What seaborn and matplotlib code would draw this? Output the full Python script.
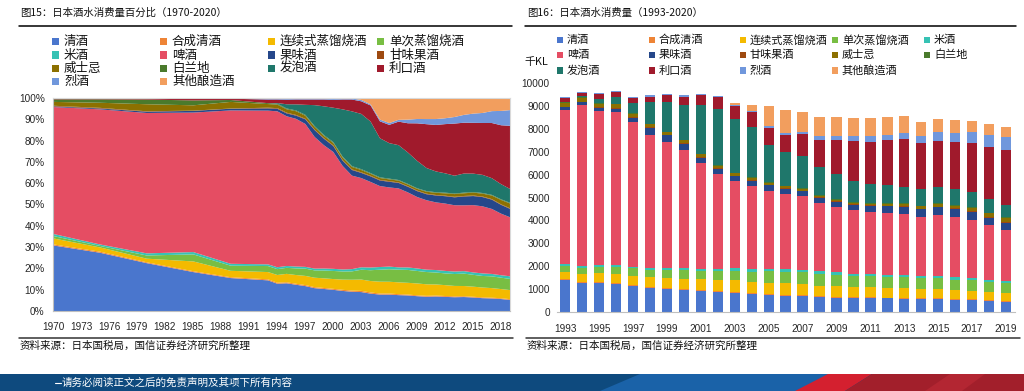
import numpy as np
import pandas as pd
import matplotlib
matplotlib.use("Agg")
import matplotlib.pyplot as plt
from matplotlib.patches import Rectangle, Polygon
from matplotlib.lines import Line2D
import seaborn as sns

# ---------------- data ----------------
categories = ["清酒", "合成清酒", "连续式蒸馏烧酒", "单次蒸馏烧酒", "米酒", "啤酒", "果味酒",
              "甘味果酒", "威士忌", "白兰地", "发泡酒", "利口酒", "烈酒", "其他酿造酒"]
colors = ["#4A76CD", "#EE8436", "#F4BA00", "#78BE43", "#36C2B4", "#E54D63", "#25478A",
          "#9E4A10", "#8C7000", "#4A7A2C", "#1F776B", "#A01A2C", "#7097DC", "#F29E5E"]

# consumption, thousand KL (figure 16)
bar_years = list(range(1993, 2020))
sake      = [1372, 1256, 1270, 1212, 1124, 1037, 1007, 964, 920, 876, 832, 759, 715, 701, 672, 642, 613, 590, 600, 585, 575, 565, 555, 526, 511, 482, 438]
goseishu  = [45, 45, 45, 45, 45, 45, 45, 45, 50, 50, 50, 50, 45, 45, 40, 35, 35, 35, 35, 35, 35, 30, 30, 30, 30, 30, 30]
shochu_a  = [320, 350, 380, 395, 405, 420, 430, 435, 455, 480, 485, 485, 500, 490, 485, 470, 475, 460, 445, 435, 420, 400, 400, 390, 375, 355, 345]
shochu_b  = [265, 265, 270, 300, 320, 325, 350, 360, 365, 370, 420, 460, 505, 520, 520, 515, 500, 490, 475, 470, 480, 485, 470, 455, 460, 440, 425]
mirin     = [75, 85, 85, 85, 80, 80, 90, 95, 90, 100, 105, 115, 115, 110, 95, 100, 100, 95, 100, 100, 100, 95, 95, 100, 95, 95, 100]
beer      = [6770, 7050, 6740, 6690, 6320, 5850, 5510, 5200, 4630, 4140, 3820, 3635, 3420, 3290, 3240, 3000, 2860, 2770, 2700, 2695, 2670, 2570, 2670, 2645, 2545, 2380, 2240]
wine      = [100, 115, 130, 145, 205, 305, 290, 265, 235, 250, 220, 235, 235, 235, 225, 225, 235, 240, 275, 295, 320, 345, 360, 365, 365, 340, 320]
sweet     = [30, 30, 30, 30, 25, 25, 25, 25, 25, 25, 25, 25, 25, 25, 20, 20, 20, 20, 20, 20, 20, 20, 20, 20, 20, 20, 20]
whisky    = [160, 160, 155, 170, 135, 110, 100, 110, 115, 110, 100, 85, 80, 75, 75, 70, 70, 80, 85, 95, 110, 105, 115, 115, 140, 170, 185]
brandy    = [40, 40, 35, 35, 40, 40, 40, 40, 40, 35, 35, 30, 30, 30, 25, 25, 25, 25, 25, 25, 25, 25, 25, 25, 25, 25, 25]
happoshu  = [0, 30, 190, 275, 440, 935, 1285, 1530, 2115, 2425, 2365, 2190, 1650, 1475, 1430, 1255, 1095, 920, 830, 775, 715, 745, 730, 715, 655, 585, 525]
liqueur   = [160, 160, 205, 220, 235, 250, 305, 350, 440, 525, 540, 685, 715, 760, 965, 1170, 1505, 1750, 1855, 1970, 2100, 1985, 2015, 2045, 2160, 2280, 2410]
spirits   = [45, 45, 55, 45, 45, 45, 45, 60, 45, 45, 60, 45, 75, 75, 75, 145, 175, 205, 235, 235, 265, 305, 365, 395, 465, 555, 600]
other     = [0, 0, 0, 0, 0, 0, 0, 0, 0, 0, 60, 250, 890, 1020, 875, 845, 820, 820, 820, 790, 745, 640, 600, 570, 495, 480, 440]

# shares (%) for the years before 1993 (figure 15)
early_years    = [1970, 1975, 1980, 1985, 1989]
sake_e         = [31.0, 27.6, 22.7, 18.5, 15.7]
goseishu_e     = [0.5, 0.5, 0.4, 0.4, 0.4]
shochu_a_e     = [2.8, 2.0, 1.7, 4.6, 3.0]
shochu_b_e     = [1.1, 0.7, 1.5, 3.3, 2.4]
mirin_e        = [1.0, 0.7, 1.0, 1.1, 0.9]
beer_e         = [59.6, 63.5, 65.9, 65.5, 72.0]
wine_e         = [0.3, 0.4, 0.6, 0.8, 0.8]
sweet_e        = [0.3, 0.3, 0.2, 0.1, 0.1]
whisky_e       = [1.8, 2.4, 3.3, 2.5, 3.1]
brandy_e       = [1.2, 1.6, 2.2, 2.3, 0.9]
happoshu_e     = [0, 0, 0, 0, 0]
liqueur_e      = [0.3, 0.3, 0.3, 0.8, 0.6]
spirits_e      = [0.1, 0.1, 0.2, 0.1, 0.1]
other_e        = [0, 0, 0, 0, 0]

left_xticks = list(range(1970, 2019, 3))
left_yticks = list(range(0, 101, 10))
right_yticks = list(range(0, 10001, 1000))
right_xlabels = list(range(1993, 2020, 2))

# ---------------- tables ----------------
bar_series = [sake, goseishu, shochu_a, shochu_b, mirin, beer, wine, sweet, whisky,
              brandy, happoshu, liqueur, spirits, other]
early_series = [sake_e, goseishu_e, shochu_a_e, shochu_b_e, mirin_e, beer_e, wine_e, sweet_e,
                whisky_e, brandy_e, happoshu_e, liqueur_e, spirits_e, other_e]

wide = pd.DataFrame(dict(zip(categories, bar_series)), index=bar_years)
long = (wide.rename_axis("年份").reset_index()
        .melt(id_vars="年份", var_name="酒类", value_name="千KL"))

early = pd.DataFrame(dict(zip(categories, early_series)), index=early_years)
share = pd.concat([early.div(early.sum(axis=1), axis=0) * 100,
                   wide.div(wide.sum(axis=1), axis=0) * 100])

palette = dict(zip(categories, colors))

# ---------------- style ----------------
sns.set_theme(style="white")
plt.rcParams["font.family"] = ["Liberation Sans", "Noto Sans CJK SC", "DejaVu Sans"]
CJK = ["Noto Sans CJK SC", "DejaVu Sans"]

W, H = 1024, 391
fig = plt.figure(figsize=(W / 100, H / 100), dpi=100)
fig.patch.set_facecolor("white")


def fx(p):
    return p / W


def fy(p):
    return 1 - p / H


def box(x0, y0, x1, y1):
    return [fx(x0), fy(y1), fx(x1) - fx(x0), fy(y0) - fy(y1)]


# ---------------- left: 100% area ----------------
axL = fig.add_axes(box(53, 98, 510, 311))
axL.stackplot(share.index, share.T.values, colors=colors, linewidth=0, antialiased=True)
axL.set_xlim(1970, 2019)
axL.set_ylim(0, 100)
axL.set_xticks(left_xticks)
axL.set_xticklabels([str(v) for v in left_xticks])
axL.set_yticks(left_yticks)
axL.set_yticklabels([f"{v}%" for v in left_yticks])
axL.tick_params(axis="x", labelsize=7.2, length=3, pad=5)
axL.tick_params(axis="y", labelsize=7.2, length=0, pad=6, colors="#262626")
axL.tick_params(axis="x", colors="#A6A6A6", labelcolor="#262626")
for s in ["top", "right"]:
    axL.spines[s].set_color("#D9D9D9")
    axL.spines[s].set_linewidth(0.8)
for s in ["left", "bottom"]:
    axL.spines[s].set_color("#BFBFBF")
    axL.spines[s].set_linewidth(0.8)
axL.set_xlabel("")
axL.set_ylabel("")

# ---------------- right: stacked bars ----------------
axR = fig.add_axes(box(556.8, 83.3, 1014.5, 311.7))
sns.histplot(data=long, x="年份", hue="酒类", weights="千KL", multiple="stack",
             discrete=True, shrink=0.61, hue_order=categories[::-1], palette=palette,
             linewidth=0, alpha=1, legend=False, ax=axR)
axR.set_xlim(1992.5, 2019.5)
axR.set_ylim(0, 10000)
axR.set_yticks(right_yticks)
axR.set_yticklabels([str(v) for v in right_yticks])
axR.set_xticks([1992.5 + 2 * k for k in range(14)])
axR.set_xticklabels([])
axR.set_xticks(right_xlabels, minor=True)
axR.set_xticklabels([str(v) for v in right_xlabels], minor=True)
axR.tick_params(axis="x", which="major", length=3, color="#A6A6A6")
axR.tick_params(axis="x", which="minor", length=0, pad=9, labelsize=7.2, labelcolor="#262626")
axR.tick_params(axis="y", length=0, pad=5, labelsize=7.2, labelcolor="#262626")
for s in ["top", "right", "left"]:
    axR.spines[s].set_visible(False)
axR.spines["bottom"].set_color("#BFBFBF")
axR.spines["bottom"].set_linewidth(0.8)
axR.set_xlabel("")
axR.set_ylabel("")

# ---------------- titles, rules, legends ----------------
fig.text(fx(20), fy(13), "图15：日本酒水消费量百分比（1970-2020）", fontsize=7.5,
         family=CJK, va="center", ha="left", color="#111111")
fig.text(fx(527), fy(13), "图16：日本酒水消费量（1993-2020）", fontsize=7.5,
         family=CJK, va="center", ha="left", color="#111111")
fig.add_artist(Line2D([fx(19), fx(512)], [fy(26), fy(26)], color="black", lw=1.1))
fig.add_artist(Line2D([fx(525), fx(1016)], [fy(26), fy(26)], color="black", lw=1.1))

# left legend 4 columns
colsL = [52, 160, 268, 377]
rowsL = [41.5, 55, 68.5, 81.5]
for i, (name, c) in enumerate(zip(categories, colors)):
    r, k = divmod(i, 4)
    x, y = colsL[k], rowsL[r]
    fig.add_artist(Rectangle((fx(x), fy(y + 3.7)), fx(7.4), fy(0) - fy(7.4),
                             facecolor=c, edgecolor="none", transform=fig.transFigure))
    fig.text(fx(x + 12), fy(y), name, fontsize=9.0, family=CJK, va="center", ha="left",
             color="#111111")

# right legend 5 columns
colsR = [557, 649, 740, 832, 924]
rowsR = [40, 55, 70.5]
for i, (name, c) in enumerate(zip(categories, colors)):
    r, k = divmod(i, 5)
    x, y = colsR[k], rowsR[r]
    fig.add_artist(Rectangle((fx(x), fy(y + 3)), fx(6), fy(0) - fy(6),
                             facecolor=c, edgecolor="none", transform=fig.transFigure))
    fig.text(fx(x + 10), fy(y), name, fontsize=8.0, family=CJK, va="center", ha="left",
             color="#111111")

fig.text(fx(524), fy(62), "千KL", fontsize=7.8, family=CJK, va="center", ha="left",
         color="#111111")

# source notes
fig.add_artist(Line2D([fx(19), fx(513)], [fy(338), fy(338)], color="#333333", lw=1.1))
fig.add_artist(Line2D([fx(526), fx(1020)], [fy(338), fy(338)], color="#333333", lw=1.1))
fig.text(fx(20), fy(346), "资料来源：日本国税局，国信证券经济研究所整理", fontsize=7.6,
         family=CJK, va="center", ha="left", color="#111111")
fig.text(fx(527), fy(346), "资料来源：日本国税局，国信证券经济研究所整理", fontsize=7.6,
         family=CJK, va="center", ha="left", color="#111111")

# footer band
fig.add_artist(Rectangle((0, 0), 1, fy(374), facecolor="#0E4A7E", edgecolor="none",
                         transform=fig.transFigure))
fig.add_artist(Polygon([(fx(600), fy(391)), (fx(640), fy(374)), (fx(830), fy(374)),
                        (fx(800), fy(391))], closed=True, facecolor="#1A62A8",
                       edgecolor="none", transform=fig.transFigure))
fig.add_artist(Polygon([(fx(795), fy(391)), (fx(828), fy(374)), (fx(872), fy(374)),
                        (fx(845), fy(391))], closed=True, facecolor="#D4202F",
                       edgecolor="none", transform=fig.transFigure))
fig.add_artist(Polygon([(fx(845), fy(391)), (fx(872), fy(374)), (fx(1024), fy(374)),
                        (fx(1024), fy(391))], closed=True, facecolor="#A21F2B",
                       edgecolor="none", transform=fig.transFigure))
fig.add_artist(Polygon([(fx(925), fy(391)), (fx(950), fy(374)), (fx(985), fy(374)),
                        (fx(962), fy(391))], closed=True, facecolor="#B32632",
                       edgecolor="none", transform=fig.transFigure))
fig.add_artist(Line2D([fx(55), fx(61)], [fy(382.5), fy(382.5)], color="white", lw=0.8))
fig.text(fx(62), fy(382.5), "请务必阅读正文之后的免责声明及其项下所有内容", fontsize=7.6,
         family=CJK, va="center", ha="left", color="white")

fig.savefig("out.png", dpi=100)
